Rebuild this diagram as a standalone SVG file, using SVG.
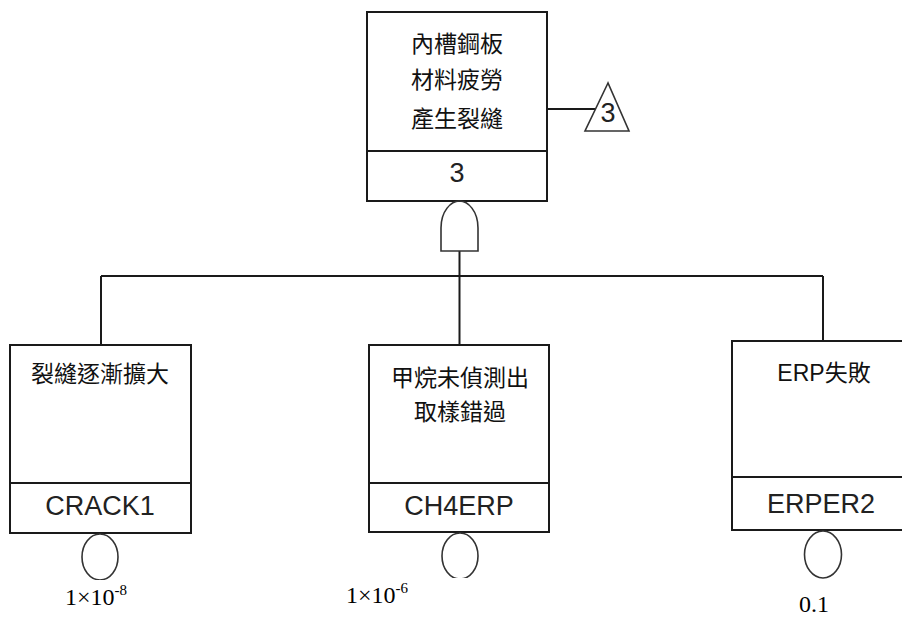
<svg xmlns="http://www.w3.org/2000/svg" width="902" height="618" viewBox="0 0 902 618">
<style>
.box{fill:#fff;stroke:#1a1a1a;stroke-width:2}
.ln{fill:none;stroke:#1a1a1a;stroke-width:2}
.thin{fill:none;stroke:#333;stroke-width:1.6}
.cjk{font-family:"Liberation Sans","Noto Sans CJK TC",sans-serif;font-size:23px;fill:#111;text-anchor:middle}
.id{font-family:"Liberation Sans",sans-serif;font-size:27px;fill:#222;text-anchor:middle}
.prob{font-family:"Liberation Serif",serif;font-size:24px;fill:#000}
</style>
<rect width="902" height="618" fill="#fff"/>
<g id="connectors">
<line class="ln" x1="547" y1="109" x2="596" y2="109"/>
<line class="ln" x1="459.5" y1="251" x2="459.5" y2="345"/>
<line class="ln" x1="101" y1="276" x2="823" y2="276"/>
<line class="ln" x1="101" y1="276" x2="101" y2="345"/>
<line class="ln" x1="823" y1="276" x2="823" y2="341"/>
</g>
<g id="top-event">
<rect class="box" x="367" y="12" width="180" height="189"/>
<line class="ln" x1="367" y1="151" x2="547" y2="151"/>
<text class="cjk" x="457" y="52">內槽鋼板</text>
<text class="cjk" x="457" y="88">材料疲勞</text>
<text class="cjk" x="457" y="127">產生裂縫</text>
<text class="id" x="457" y="182" font-size="28">3</text>
</g>
<g id="transfer">
<polygon class="thin" points="608,83 585,131 629,131"/>
<text class="id" x="608" y="122" font-size="27">3</text>
</g>
<g id="and-gate">
<path class="thin" d="M441,251 V228 C441,211 451,201 459.5,201 C468,201 478,211 478,228 V251 Z"/>
</g>
<g id="crack1">
<rect class="box" x="10" y="345" width="181" height="188"/>
<line class="ln" x1="10" y1="483" x2="191" y2="483"/>
<text class="cjk" x="100" y="382">裂縫逐漸擴大</text>
<text class="id" x="100" y="515">CRACK1</text>
<ellipse class="thin" cx="100" cy="557" rx="18" ry="23"/>
<rect x="55" y="580" width="90" height="38" fill="#fff"/>
<text class="prob" x="65" y="605">1×10<tspan font-size="15" dy="-10">-8</tspan></text>
</g>
<g id="ch4erp">
<rect class="box" x="369" y="345" width="180" height="187"/>
<line class="ln" x1="369" y1="483" x2="549" y2="483"/>
<text class="cjk" x="460" y="386">甲烷未偵測出</text>
<text class="cjk" x="460" y="420">取樣錯過</text>
<text class="id" x="459" y="515">CH4ERP</text>
<ellipse class="thin" cx="460" cy="556" rx="18" ry="23"/>
<rect x="335" y="578" width="140" height="40" fill="#fff"/>
<text class="prob" x="346" y="603">1×10<tspan font-size="15" dy="-10">-6</tspan></text>
</g>
<g id="erper2">
<rect class="box" x="732" y="341" width="190" height="189"/>
<line class="ln" x1="732" y1="477" x2="922" y2="477"/>
<text class="cjk" x="824" y="381" font-size="27">ERP失敗</text>
<text class="id" x="821" y="513">ERPER2</text>
<ellipse class="thin" cx="823" cy="554.5" rx="18.5" ry="23.5"/>
<text class="prob" x="814" y="612" text-anchor="middle">0.1</text>
</g>
</svg>
